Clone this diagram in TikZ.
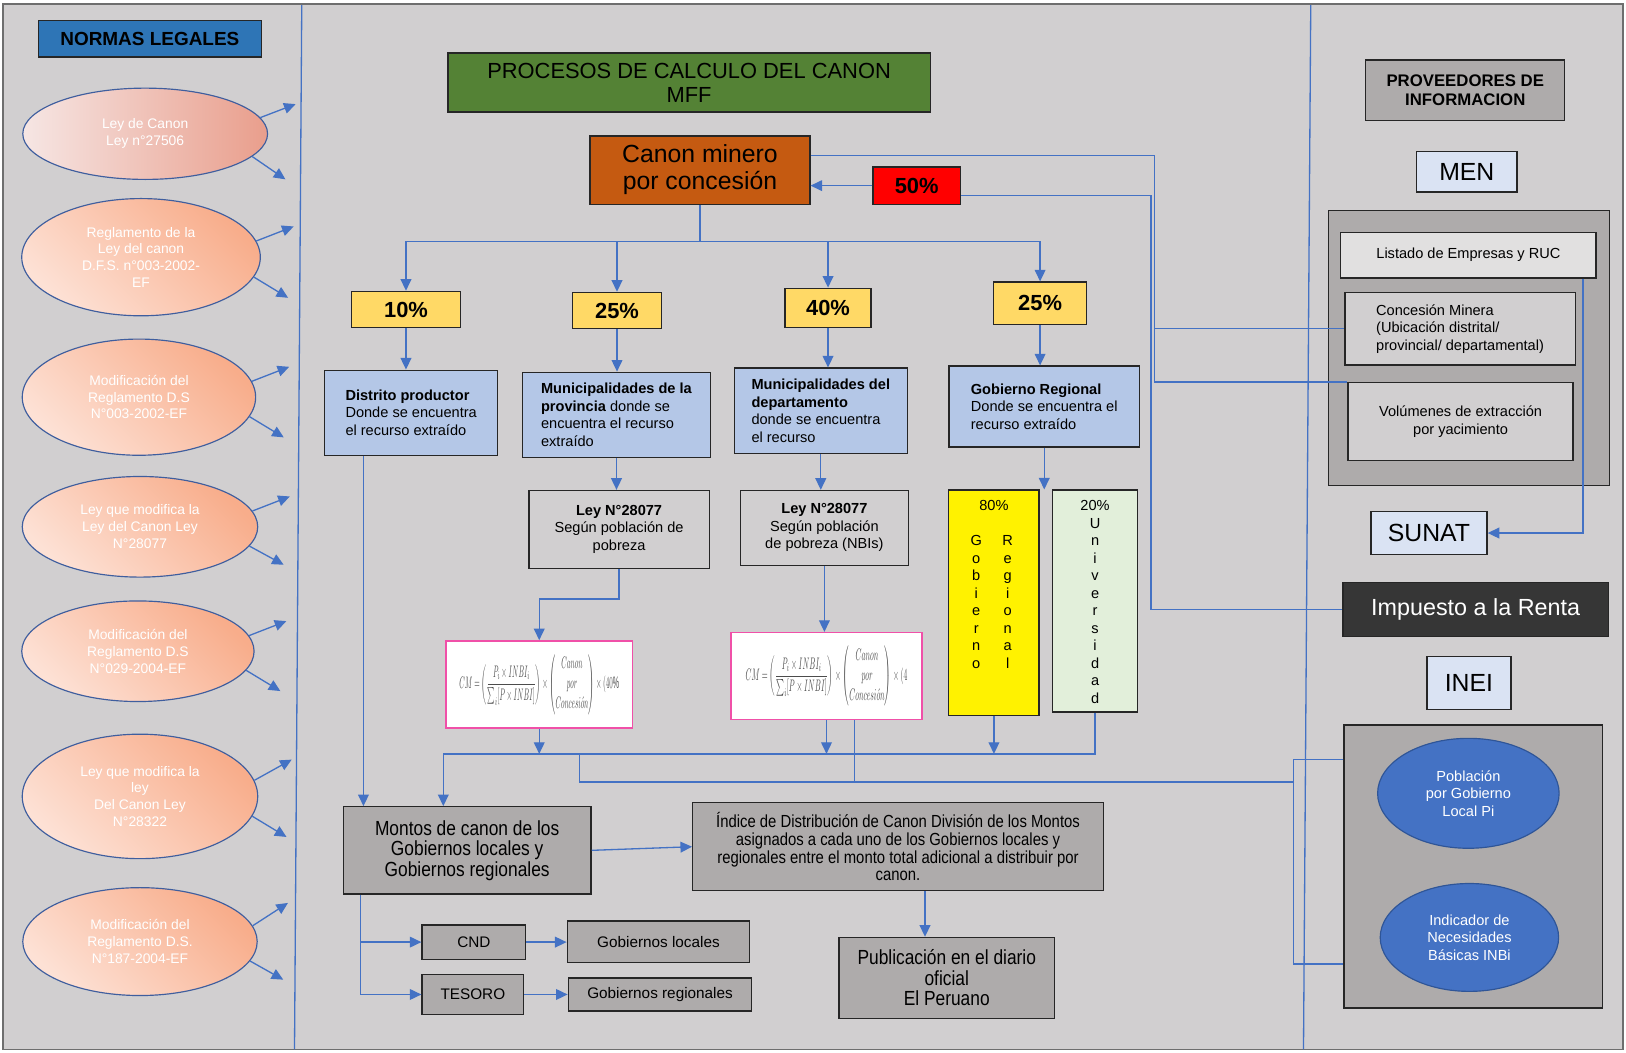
\documentclass[tikz,border=0pt]{standalone}
\usepackage{fontspec}
\setmainfont{Liberation Sans}
\newfontfamily\narrowfont[FakeStretch=0.85]{Liberation Sans}
\usepackage{amsmath}
\usepackage{graphicx}
\usetikzlibrary{shapes.geometric,arrows.meta,calc}

\definecolor{pagegray}{HTML}{D1CFD0}
\definecolor{framegray}{HTML}{6E6E6E}
\definecolor{boxline}{HTML}{262626}
\definecolor{boxgray}{HTML}{AEABAB}
\definecolor{linkblue}{HTML}{4472C4}
\definecolor{normblue}{HTML}{2E75B6}
\definecolor{titlegreen}{HTML}{548235}
\definecolor{canonorange}{HTML}{C55A11}
\definecolor{pctyellow}{HTML}{FFD966}
\definecolor{paleblue}{HTML}{B4C7E7}
\definecolor{lightblue}{HTML}{DAE3F3}
\definecolor{palegreen}{HTML}{E2EFDA}
\definecolor{formpink}{HTML}{F050A8}
\definecolor{darkbox}{HTML}{363636}
\definecolor{listgray}{HTML}{E1E0E0}
\definecolor{salmondark}{HTML}{F8AD8B}
\definecolor{salmonlight}{HTML}{FDE1D5}
\definecolor{rosepale}{HTML}{F6E6E4}
\definecolor{rosedark}{HTML}{E99E8C}
\definecolor{ovalline}{HTML}{3F5E9E}
\definecolor{ovalblue}{HTML}{4472C4}
\definecolor{ovalbluedark}{HTML}{2F5597}

\tikzset{
	boxsize/.style 2 args={minimum width=#1*0.025cm, minimum height=#2*0.025cm},
	plainbox/.style={draw=boxline, line width=0.9pt, inner sep=0pt, align=center},
	graybox/.style={plainbox, fill=boxgray},
	bluebox/.style={plainbox, fill=paleblue, align=left, font=\fontsize{10}{12}\selectfont},
	pctbox/.style={plainbox, fill=pctyellow, font=\fontsize{15}{17}\selectfont\bfseries},
	formbox/.style={plainbox, draw=formpink, fill=white, text=black!70},
	lawoval/.style={ellipse, draw=ovalline, line width=0.8pt, inner sep=0pt, align=center, text=white, font=\fontsize{9.5}{11.5}\selectfont, top color=salmondark, bottom color=salmonlight, shading angle=-45},
	inboval/.style={ellipse, draw=ovalbluedark, fill=ovalblue, line width=0.8pt, inner sep=0pt, align=center, text=white, font=\fontsize{10}{12}\selectfont},
	link/.style={draw=linkblue, line width=0.9pt},
	linkarrow/.style={link, -{Triangle[length=2.8mm,width=2.6mm]}},
}

\begin{document}
\begin{tikzpicture}[x=0.025cm, y=-0.025cm]
		\useasboundingbox (0,0) rectangle (1568,1015);
		\draw[framegray, fill=pagegray, line width=1pt] (3,4) rectangle (1565,1012);
		\draw[link] (291,5) -- (284,1012);
		\draw[link] (1264,5) -- (1257,1012);
		
		\node[plainbox, fill=normblue, font=\fontsize{13}{15}\selectfont\bfseries, boxsize={215}{35}] (normas) at (144.5,37.5) {NORMAS LEGALES};
		\node[lawoval, left color=rosepale, right color=rosedark, minimum width=5.9cm, minimum height=2.2cm] (e1) at (140,129) {Ley de Canon\\Ley n°27506};
		\node[lawoval, minimum width=5.75cm, minimum height=2.825cm] (e2) at (136,248) {Reglamento de la\\Ley del canon\\D.F.S. n°003-2002-\\EF};
		\node[lawoval, minimum width=5.625cm, minimum height=2.8cm] (e3) at (134,383) {Modificación del\\Reglamento D.S\\N°003-2002-EF};
		\node[lawoval, minimum width=5.675cm, minimum height=2.425cm] (e4) at (135,508) {Ley que modifica la\\Ley del Canon Ley\\N°28077};
		\node[lawoval, minimum width=5.6cm, minimum height=2.425cm] (e5) at (133,628) {Modificación del\\Reglamento D.S\\N°029-2004-EF};
		\node[lawoval, minimum width=5.675cm, minimum height=3cm] (e6) at (135,768) {Ley que modifica la\\ley\\Del Canon Ley\\N°28322};
		\node[lawoval, minimum width=5.65cm, minimum height=2.6cm] (e7) at (135,908) {Modificación del\\Reglamento D.S.\\N°187-2004-EF};
		
		\node[plainbox, fill=titlegreen, font=\fontsize{15}{16.5}\selectfont, boxsize={465}{57}] (titulo) at (664.5,79.5) {PROCESOS DE CALCULO DEL CANON\\MFF};
		\node[plainbox, fill=canonorange, font=\fontsize{17}{18.5}\selectfont, boxsize={212}{66}] (canon) at (675,164) {Canon minero\\por concesión};
		\node[plainbox, fill=red, font=\fontsize{15}{17}\selectfont\bfseries, boxsize={84}{36}] (p50) at (884,179) {50\%};
		
		\node[pctbox, boxsize={105}{35}] (p10) at (391.5,298.5) {10\%};
		\node[pctbox, boxsize={86}{35}] (p25a) at (595,299.5) {25\%};
		\node[pctbox, boxsize={83}{38}] (p40) at (798.5,297) {40\%};
		\node[pctbox, boxsize={90}{41}] (p25b) at (1003,292.5) {25\%};
		
		\node[bluebox, boxsize={167}{82}] (distrito) at (396.5,398) {\textbf{Distrito productor}\\Donde se encuentra\\el recurso extraído};
		\node[bluebox, boxsize={181}{82}] (provincia) at (594.5,400) {\textbf{Municipalidades de la}\\\textbf{provincia} donde se\\encuentra el recurso\\extraído};
		\node[bluebox, boxsize={167}{82}] (depto) at (791.5,396) {\textbf{Municipalidades del}\\\textbf{departamento}\\donde se encuentra\\el recurso};
		\node[bluebox, boxsize={184}{78}] (gobreg) at (1007,392) {\textbf{Gobierno Regional}\\Donde se encuentra el\\recurso extraído};
		
		\node[plainbox, fill=pagegray, font=\fontsize{10}{12}\selectfont, boxsize={174}{75}] (ley1) at (597,510.5) {\textbf{Ley N°28077}\\Según población de\\pobreza};
		\node[plainbox, fill=pagegray, font=\fontsize{10}{12}\selectfont, boxsize={162}{72}] (ley2) at (795,509) {\textbf{Ley N°28077}\\Según población\\de pobreza (NBIs)};
		
		\node[formbox, boxsize={180}{84}] (form1) at (520,660) {\resizebox*{3.85cm}{1.45cm}{$\displaystyle CM=\left(\frac{P_i\times INBI_i}{\sum_i[P\times INBI]}\right)\times\left(\begin{array}{@{}c@{}}Canon\\por\\Concesi\acute{o}n\end{array}\right)\times(40\%$}};
		\node[formbox, boxsize={184}{84}] (form2) at (797,652) {\resizebox*{3.9cm}{1.45cm}{$\displaystyle CM=\left(\frac{P_i\times INBI_i}{\sum_i[P\times INBI]}\right)\times\left(\begin{array}{@{}c@{}}Canon\\por\\Concesi\acute{o}n\end{array}\right)\times(4$}};
		
		\node[plainbox, fill=yellow, anchor=north, minimum width=2.175cm, text height=0.5cm, text depth=4.925cm, font=\fontsize{10}{12}\selectfont] (g80) at (958.5,472) {\begin{tabular}[t]{@{}c@{\hspace{11pt}}c@{}}\multicolumn{2}{c}{80\%}\\[12pt]G&R\\o&e\\b&g\\i&i\\e&o\\r&n\\n&a\\o&l\end{tabular}};
		\node[plainbox, fill=palegreen, anchor=north, minimum width=2.05cm, text height=0.5cm, text depth=4.85cm, font=\fontsize{10}{12}\selectfont] (g20) at (1056,472) {\begin{tabular}[t]{@{}c@{}}20\%\\U\\n\\i\\v\\e\\r\\s\\i\\d\\a\\d\end{tabular}};
		
		\node[graybox, font=\narrowfont\fontsize{14}{14}\selectfont, boxsize={239}{84}] (montos) at (450.5,820) {Montos de canon de los\\Gobiernos locales y\\Gobiernos regionales};
		\node[graybox, font=\narrowfont\fontsize{12}{12.2}\selectfont, boxsize={396}{85}] (indice) at (866,816.5) {Índice de Distribución de Canon División de los Montos\\asignados a cada uno de los Gobiernos locales y\\regionales entre el monto total adicional a distribuir por\\canon.};
		\node[graybox, font=\narrowfont\fontsize{14}{14}\selectfont, boxsize={208}{78}] (publica) at (913,943) {Publicación en el diario\\oficial\\El Peruano};
		\node[graybox, font=\fontsize{10.5}{12}\selectfont, boxsize={100}{33}] (cnd) at (457,908.5) {CND};
		\node[graybox, font=\fontsize{10.5}{12}\selectfont, boxsize={98}{38}] (tesoro) at (456,959) {TESORO};
		\node[graybox, font=\fontsize{10.5}{12}\selectfont, boxsize={176}{40}] (gobloc) at (635,908) {Gobiernos locales};
		\node[graybox, font=\fontsize{10.5}{12}\selectfont, boxsize={177}{32}] (gobregs) at (636.5,959) {Gobiernos regionales};
		
		\node[graybox, font=\fontsize{11.5}{12.8}\selectfont\bfseries, boxsize={192}{58}] (proveedores) at (1413,87) {PROVEEDORES DE\\INFORMACION};
		\node[plainbox, fill=lightblue, font=\fontsize{17}{19}\selectfont, boxsize={97}{39}] (men) at (1414.5,165.5) {MEN};
		\node[graybox, boxsize={271}{265}] (menbox) at (1416.5,335.5) {};
		\node[plainbox, fill=listgray, font=\fontsize{10}{12}\selectfont, boxsize={246}{44}] (listado) at (1416,246) {Listado de Empresas y RUC};
		\node[plainbox, fill=pagegray, align=left, font=\fontsize{10}{12}\selectfont, boxsize={222}{70}] (concesion) at (1408,317) {Concesión Minera\\(Ubicación distrital/\\provincial/ departamental)};
		\node[plainbox, fill=pagegray, font=\fontsize{10}{12}\selectfont, boxsize={217}{75}] (volumen) at (1408.5,406.5) {Volúmenes de extracción\\por yacimiento};
		\node[plainbox, fill=lightblue, font=\fontsize{17}{19}\selectfont, boxsize={112}{42}] (sunat) at (1378,514) {SUNAT};
		\node[plainbox, fill=darkbox, text=white, font=\fontsize{16}{18}\selectfont, boxsize={256}{52}] (renta) at (1423,588) {Impuesto a la Renta};
		\node[plainbox, fill=lightblue, font=\fontsize{17}{19}\selectfont, boxsize={81}{51}] (inei) at (1416.5,658.5) {INEI};
		\node[graybox, boxsize={249}{273}] (ineibox) at (1420.5,835.5) {};
		\node[inboval, minimum width=4.375cm, minimum height=2.65cm] (poblacion) at (1416,765) {Población\\por Gobierno\\Local Pi};
		\node[inboval, minimum width=4.3cm, minimum height=2.6cm] (inbi) at (1417,904) {Indicador de\\Necesidades\\Básicas INBi};
		
		\draw[linkarrow] (e1.8) -- ++(34,-13);
		\draw[linkarrow] (e1.-12) -- ++(32,22);
		\draw[linkarrow] (e2.8) -- ++(36,-14);
		\draw[linkarrow] (e2.-10) -- ++(33,20);
		\draw[linkarrow] (e3.8) -- ++(36,-14);
		\draw[linkarrow] (e3.-10) -- ++(33,20);
		\draw[linkarrow] (e4.8) -- ++(36,-14);
		\draw[linkarrow] (e4.-10) -- ++(33,18);
		\draw[linkarrow] (e5.8) -- ++(36,-14);
		\draw[linkarrow] (e5.-10) -- ++(33,20);
		\draw[linkarrow] (e6.8) -- ++(36,-20);
		\draw[linkarrow] (e6.-10) -- ++(33,20);
		\draw[linkarrow] (e7.8) -- ++(34,-22);
		\draw[linkarrow] (e7.-10) -- ++(32,18);
		
		\coordinate (bus) at (0,233);
		\draw[link] (canon.south) -- (canon.south |- bus);
		\draw[linkarrow] (canon.south |- bus) -| (p10.north);
		\draw[linkarrow] (canon.south |- bus) -| (p25b.north);
		\draw[linkarrow] (p25a.north |- bus) -- (p25a.north);
		\draw[linkarrow] (p40.north |- bus) -- (p40.north);
		\draw[linkarrow] (p10.south) -- (p10.south |- distrito.north);
		\draw[linkarrow] (p25a.south) -- (p25a.south |- provincia.north);
		\draw[linkarrow] (p40.south) -- (p40.south |- depto.north);
		\draw[linkarrow] (p25b.south) -- (p25b.south |- gobreg.north);
		\draw[linkarrow] (provincia.south) -- (provincia.south |- ley1.north);
		\draw[linkarrow] (depto.south) -- (depto.south |- ley2.north);
		\draw[linkarrow] (gobreg.south) -- (gobreg.south |- g80.north);
		\draw[linkarrow] (ley1.south) -- ++(0,29) -| (form1.north);
		\draw[linkarrow] (ley2.south) -- (ley2.south |- form2.north);
		
		\coordinate (bus2) at (0,727);
		\coordinate (mtop) at ($(montos.north)+(-23,0)$);
		\draw[linkarrow] (form1.south) -- (form1.south |- bus2);
		\draw[linkarrow] (form2.south) -- (form2.south |- bus2);
		\draw[linkarrow] (g80.south) -- (g80.south |- bus2);
		\draw[linkarrow] (g20.south) |- (mtop |- bus2) -- (mtop);
		\coordinate (dleft) at ($(distrito.south)+(-46,0)$);
		\draw[linkarrow] (dleft) -- (dleft |- montos.north);
		
		\coordinate (bus3) at (1248,754);
		\coordinate (f2r) at ($(form2.south)+(27,0)$);
		\draw[link] ($(ineibox.north west)+(0,34)$) -- ++(-48,0) |- ($(ineibox.south west)+(0,-43)$);
		\draw[link] (bus3) -- (559,754) -- (559,727);
		\draw[link] (f2r) -- (f2r |- bus3);
		
		\draw[linkarrow] (montos.east) -- (indice.west);
		\coordinate (itop) at ($(indice.south)+(26,0)$);
		\draw[linkarrow] (itop) -- (itop |- publica.north);
		\coordinate (mdown) at ($(montos.south west)+(17,0)$);
		\draw[linkarrow] (mdown) |- (tesoro.west);
		\draw[linkarrow] (mdown |- cnd.west) -- (cnd.west);
		\draw[linkarrow] (cnd.east) -- (cnd.east -| gobloc.west);
		\draw[linkarrow] (tesoro.east) -- (tesoro.east -| gobregs.west);
		
		\coordinate (menbus) at (1113,0);
		\coordinate (rentabus) at (1110,0);
		\coordinate (canonout) at ($(canon.north east)!0.29!(canon.south east)$);
		\coordinate (p50out) at ($(p50.north east)!0.75!(p50.south east)$);
		\draw[link] (canonout) -| (menbus |- volumen.north west) -- (volumen.north west);
		\draw[link] (concesion.west -| menbus) -- (concesion.west);
		\draw[link] (p50out) -| (renta.west -| rentabus) -- (renta.west);
		\draw[linkarrow] (p50.west) -- (p50.west -| canon.east);
		\draw[linkarrow] ($(listado.south east)+(-13,0)$) |- (sunat.east);
		
		\end{tikzpicture}
\end{document}
